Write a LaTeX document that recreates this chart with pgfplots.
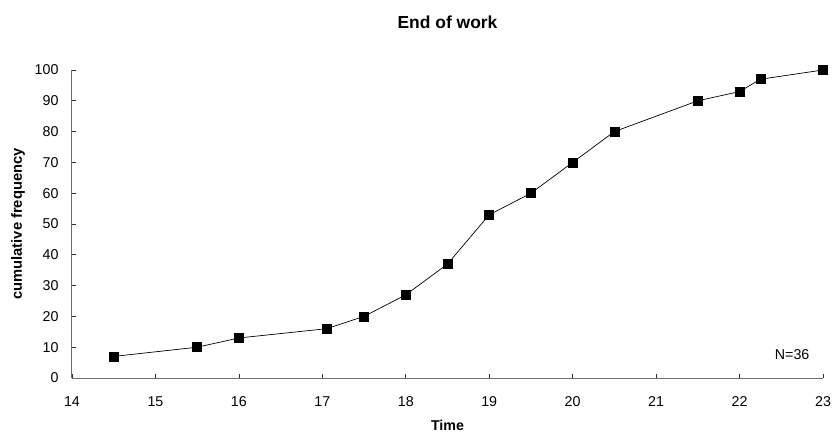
\documentclass[border=0pt]{standalone}
\usepackage{pgfplots}
\pgfplotsset{compat=1.18}
\usepackage{fontspec}
\setmainfont{Liberation Sans}
\begin{document}
\begin{tikzpicture}
\useasboundingbox (-72bp,-56bp) rectangle (761bp,378bp);
\begin{axis}[
  scale only axis,
  width=751bp, height=308bp,
  at={(0,0)}, anchor=south west,
  xmin=14, xmax=23, ymin=0, ymax=100,
  xtick={14,15,...,23}, ytick={0,10,...,100},
  axis lines=left,
  axis line style={-, draw=gray!85!black, line width=1bp},
  tick style={draw=black!80, line width=0.6bp},
  tick align=inside,
  major tick length=4bp,
  /pgf/number format/assume math mode=true,
  tick label style={font=\fontsize{14.3}{16}\selectfont},
  xticklabel style={anchor=center, yshift=-24bp},
  yticklabel style={anchor=east, xshift=-10bp},
  clip=false,
]
\addplot[black, line width=0.7bp, mark=square*, mark size=4.5bp, mark options={solid, fill=black}] coordinates {
(14.5,7) (15.5,10) (16,13) (17.05,16) (17.5,20) (18,27) (18.5,37) (19,53) (19.5,60) (20,70) (20.5,80) (21.5,90) (22,93) (22.25,97) (23,100)
};
\node[font=\fontsize{14.3}{16}\selectfont] at (axis cs:22.63,7.5) {N=36};
\node[font=\bfseries\fontsize{17.5}{20}\selectfont] at ([yshift=48bp]axis description cs:0.5,1) {End of work};
\node[rotate=90, font=\bfseries\fontsize{14.8}{17}\selectfont] at ([xshift=-54bp]axis description cs:0,0.5) {cumulative frequency};
\node[inner sep=0pt, font=\bfseries\fontsize{14.3}{16}\selectfont] at ([yshift=-47bp]axis description cs:0.5,0) {Time};
\end{axis}
\end{tikzpicture}
\end{document}
